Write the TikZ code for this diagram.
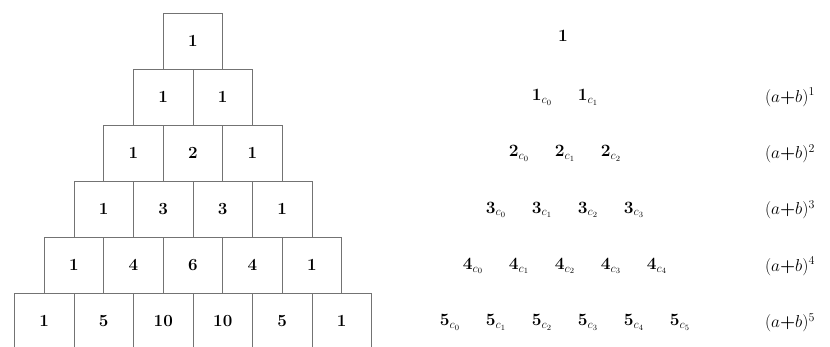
\documentclass[tikz,border=0pt]{standalone}
\usepackage{amsmath}
\usetikzlibrary{positioning}

\begin{document}
\begin{tikzpicture}[x=1pt,y=-1pt,
  cell/.style={rectangle,draw=black!55,line width=0.9pt,minimum width=59.5pt,minimum height=56pt,inner sep=0pt,font=\fontsize{17}{20}\selectfont\bfseries},
  term/.style={inner sep=0pt,font=\fontsize{17}{20}\selectfont},
  power/.style={inner sep=0pt,font=\fontsize{17}{20}\selectfont}]
  \useasboundingbox (0,0) rectangle (830,347);
  % Left: pyramid of boxes
  \foreach \r/\vals in {0/{1},1/{1,1},2/{1,2,1},3/{1,3,3,1},4/{1,4,6,4,1},5/{1,5,10,10,5,1}} {
    \foreach \v [count=\k from 0] in \vals {
      \node[cell] (b\r-\k) at ({193+(\k-\r/2)*59.5},{41+56*\r}) {\v};
    }
  }
  % Right: coefficients
  \node[term] (t0-0) at (563,36) {$\mathbf{1}$};
  \foreach \r in {1,...,5} {
    \foreach \k in {0,...,\r} {
      \node[term] (t\r-\k) at ({565+(\k-\r/2)*46},{41+56.3*\r}) {$\mathbf{\r}_{c_{\k}}$};
    }
    \node[power] (p\r) at (790,{41+56.3*\r}) {$(a{\boldsymbol{+}}b)^{\r}$};
  }
\end{tikzpicture}
\end{document}
